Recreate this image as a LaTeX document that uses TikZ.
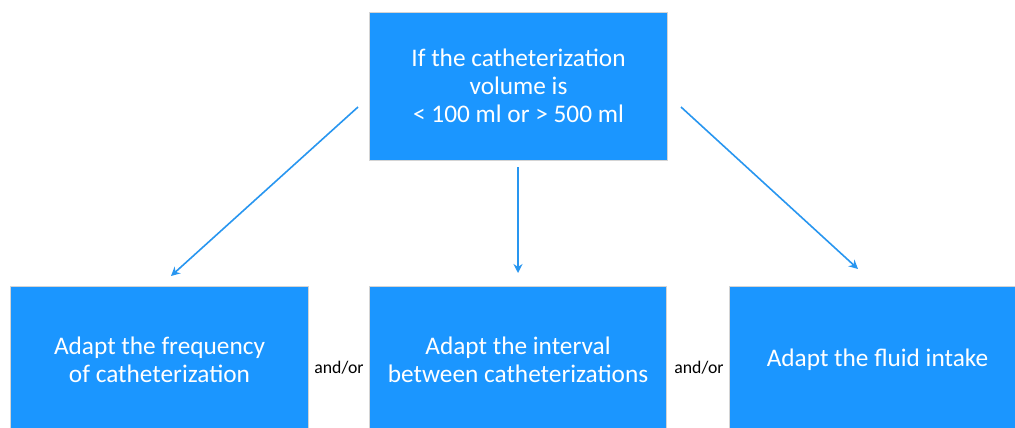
\documentclass[tikz,border=0pt]{standalone}
\usepackage{fontspec}
\setmainfont{Carlito}
\usetikzlibrary{arrows.meta}
\definecolor{boxblue}{RGB}{27,150,255}
\definecolor{arrowblue}{RGB}{40,150,240}
\definecolor{boxedge}{RGB}{212,212,212}
\begin{document}
\begin{tikzpicture}[x=1bp,y=-1bp,
  bluebox/.style={draw=boxedge,line width=1bp,fill=boxblue,text=white,
    font=\fontsize{25.4}{28}\selectfont,align=center,inner sep=0pt},
  conn/.style={draw=arrowblue,line width=1.6bp,-{Stealth[length=9bp,width=9bp]}},
  orlabel/.style={font=\fontsize{17.8}{20}\selectfont,text=black,inner sep=0pt}]
\useasboundingbox (0,0) rectangle (1015,427);
\clip (0,0) rectangle (1015,427);
\fill[white] (0,0) rectangle (1015,427);
\node[bluebox,minimum width=298bp,minimum height=148bp] (top) at (518.5,86)
  {If the catheterization\\volume is\\< 100 ml or > 500 ml};
\node[bluebox,minimum width=297bp,minimum height=148bp] (left) at (159.5,360)
  {Adapt the frequency\\of catheterization};
\node[bluebox,minimum width=297bp,minimum height=148bp] (mid) at (518,360)
  {Adapt the interval\\between catheterizations};
\node[bluebox,minimum width=297bp,minimum height=148bp] (right) at (877.5,360)
  {Adapt the fluid intake};
\node[orlabel] (or1) at (339,368) {and/or};
\node[orlabel] (or2) at (699,368) {and/or};
\coordinate (s1) at (358,107);
\coordinate (e1) at (171,276);
\coordinate (s2) at (518,167);
\coordinate (e2) at (518,273);
\coordinate (s3) at (681,107);
\coordinate (e3) at (858,269);
\draw[conn] (s1) -- (e1);
\draw[conn] (s2) -- (e2);
\draw[conn] (s3) -- (e3);
\end{tikzpicture}
\end{document}
